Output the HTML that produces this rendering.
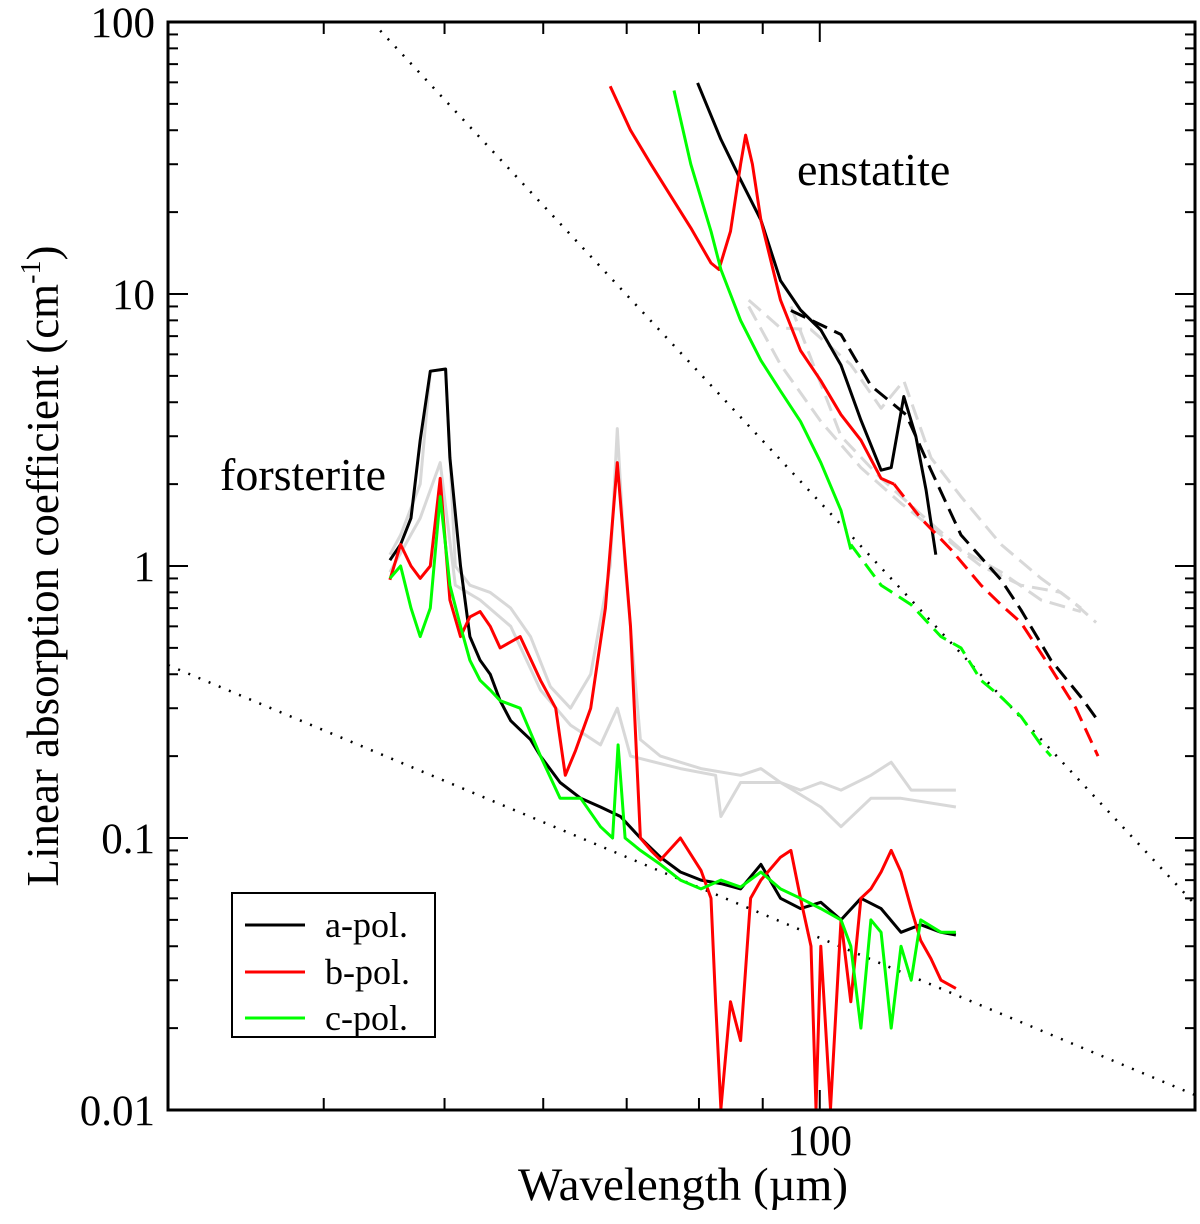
<!DOCTYPE html>
<html><head><meta charset="utf-8"><style>
body{margin:0;background:#fff}
svg{display:block;font-family:"Liberation Serif",serif}
</style></head><body>
<svg id="chart" width="1200" height="1224" viewBox="0 0 1200 1224">
<g id="series"></g>
<g id="axes"></g>
<text x="797" y="185" font-size="46">enstatite</text>
<text x="220" y="490" font-size="46">forsterite</text>
<text x="683" y="1200" font-size="47" text-anchor="middle">Wavelength (µm)</text>
<text transform="translate(58,566) rotate(-90)" font-size="45" text-anchor="middle">Linear absorption coefficient (cm<tspan font-size="28" dy="-18">-1</tspan><tspan dy="18">)</tspan></text>
<g>
<rect x="232" y="893" width="203" height="144" fill="#fff" stroke="#000" stroke-width="2"/>
<line x1="245" y1="925" x2="305" y2="925" stroke="#000" stroke-width="3"/>
<text x="325" y="937" font-size="36">a-pol.</text>
<line x1="245" y1="972" x2="305" y2="972" stroke="#f00" stroke-width="3"/>
<text x="325" y="984" font-size="36">b-pol.</text>
<line x1="245" y1="1018" x2="305" y2="1018" stroke="#0f0" stroke-width="3"/>
<text x="325" y="1030" font-size="36">c-pol.</text>
</g>
</svg>
<script>
const xTicksMinor=[40,50,60,70,80,90,100,200];
const xTickLabels=[100];
const yTickLabels=[0.01,0.1,1,10,100];
const dot1L=[44.4,200], dot1V=[93,0.057];
const dot2L=[30,200], dot2V=[0.432,0.01135];
// enstatite
const eBlkL=[79.8,83.3,86.4,89.7,93,96.5,100.2,104,107.9,112,114.1,116.8,119.4,121.7,123.9];
const eBlkV=[59.7,37,26.3,18.7,11.2,8.73,7.38,5.48,3.44,2.25,2.3,4.2,3.0,1.9,1.1];
const eBlkDL=[94.8,104,109.9,117.3,122.8,129.8,139.8,145,153.3,162,167.2];
const eBlkDV=[8.7,7.1,4.6,3.6,2.25,1.3,0.889,0.69,0.45,0.33,0.27];
const eRedL=[67.9,70.5,73.2,75.9,78.8,81.8,83,84.8,86.4,87.2,88.3,89.7,93,96.5,100.2,104,107.9,112,114.7];
const eRedV=[58,40,30,23,17.5,13,12.3,17,30,38.4,30,18.7,9.5,6.2,4.8,3.6,2.9,2.1,2.0];
const eRedDL=[114.7,120.5,127.4,134.7,139.8,145,153.3,160.5,167.2];
const eRedDV=[2.0,1.5,1.15,0.85,0.72,0.62,0.42,0.3,0.2];
const eGrnL=[76.4,78.8,81.8,83.3,86.4,89.7,93,96.5,100.2,104,105.9];
const eGrnV=[56,30,17,12.3,8,5.7,4.4,3.4,2.4,1.6,1.15];
const eGrnDL=[105.9,112,118.4,125.1,129.8,134.7,139.8,145,150.5,153.3];
const eGrnDV=[1.2,0.85,0.72,0.55,0.5,0.38,0.33,0.28,0.22,0.2];
const eGryAL=[87.7,93,98.4,105.9,112,116.8,122.8,129.8,139.8,150.5,159,166.6];
const eGryAV=[9.5,7.5,7.4,5.5,3.8,4.8,2.5,1.8,1.2,0.9,0.75,0.62];
const eGryBL=[87.7,93,100.2,107.9,116.2,125.1,134.7,145,156.1,162];
const eGryBV=[9.0,5.5,3.4,2.3,1.7,1.3,1.0,0.85,0.8,0.7];
const eGryCL=[94.8,104,112,120.5,129.8,139.8,150.5,162];
const eGryCV=[9,3.0,2.1,1.55,1.15,0.95,0.75,0.68];
// forsterite
const fBlkL=[45.2,46.1,47,47.8,48.7,50.1,50.5,51.5,52.4,53.4,54.4,55.4,56.5,57.5,58.6,59.7,61.9,64.3,66.7,69.2,71.8,74.5,77.3,80.3,83.3,86.4,89.7,93,96.5,100.2,104,107.9,112,116.2,120.5,125.1,128.6];
const fBlkV=[1.05,1.2,1.5,2.9,5.2,5.3,2.5,1.0,0.55,0.45,0.4,0.32,0.27,0.25,0.23,0.2,0.16,0.14,0.13,0.12,0.1,0.085,0.075,0.07,0.068,0.065,0.08,0.06,0.055,0.058,0.05,0.06,0.055,0.045,0.048,0.045,0.044];
const fRedL=[45.2,46.1,47,47.8,48.7,49.6,50.5,51.5,52.4,53.4,54.4,55.4,57.5,59.7,61.4,62.5,63.7,65.5,67.3,68.8,70.5,71.8,73.2,74.5,77.3,80.3,81.8,82.5,83.3,84.8,86.4,88,89.7,93,94.8,96.5,98.4,99.3,100.2,102,104,105.9,107.9,109.9,112,114.1,116.2,118.4,120.5,122.8,125.1,128.6];
const fRedV=[0.89,1.2,1.0,0.9,1.0,2.1,0.75,0.55,0.65,0.68,0.6,0.5,0.55,0.38,0.3,0.17,0.21,0.3,0.7,2.4,0.6,0.1,0.09,0.083,0.1,0.076,0.06,0.025,0.0101,0.025,0.018,0.06,0.07,0.085,0.09,0.06,0.04,0.0101,0.04,0.0101,0.05,0.025,0.06,0.065,0.075,0.09,0.075,0.055,0.042,0.036,0.03,0.028];
const fGrnL=[45.2,46.1,47,47.8,48.7,49.6,50.5,51.5,52.4,53.4,54.4,55.4,57.5,59.7,61.9,64.3,66.7,68.2,68.9,69.8,71.8,74.5,77.3,80.3,83.3,86.4,89.7,93,96.5,100.2,104,105.9,107.9,109.9,112,114.1,116.2,118.4,120.5,125.1,128.6];
const fGrnV=[0.9,1.0,0.7,0.55,0.7,1.8,0.85,0.6,0.45,0.38,0.35,0.32,0.3,0.2,0.14,0.14,0.11,0.1,0.22,0.1,0.09,0.08,0.07,0.065,0.07,0.066,0.075,0.065,0.06,0.055,0.05,0.04,0.02,0.05,0.045,0.02,0.04,0.03,0.05,0.045,0.045];
const fGryAL=[45.2,46.1,47.8,48.7,50.1,51,52.4,54.4,56.5,58.6,60.8,63.1,65.5,67.9,68.8,69.8,71.8,74.5,80.3,86.4,89.7,93,96.5,100.2,104,109.9,114.1,118.4,128.6];
const fGryAV=[1.1,1.3,2.0,5.2,5.3,1.0,0.85,0.8,0.7,0.55,0.36,0.3,0.4,1.0,3.2,1.0,0.23,0.2,0.18,0.17,0.18,0.16,0.15,0.16,0.15,0.17,0.19,0.15,0.15];
const fGryBL=[45.2,47.8,49.6,51,53.4,56.5,59.7,63.1,66.7,68.8,70.5,77.3,82.5,83.3,86.4,93,100.2,104,109.9,116.2,128.6];
const fGryBV=[0.95,1.5,2.4,0.85,0.75,0.6,0.35,0.26,0.22,0.3,0.2,0.18,0.17,0.12,0.16,0.16,0.13,0.11,0.14,0.14,0.13];

const L=168,R=1195,T=22,B=1110,XMIN=30,XMAX=200,YMIN=0.01,YMAX=100;
const X=v=>L+(Math.log10(v/XMIN))/Math.log10(XMAX/XMIN)*(R-L);
const Y=v=>B-(Math.log10(v/YMIN))/Math.log10(YMAX/YMIN)*(B-T);
const NS='http://www.w3.org/2000/svg';
const sg=document.getElementById('series'), ag=document.getElementById('axes');
function mk(tag,attrs,parent){const e=document.createElementNS(NS,tag);for(const k in attrs)e.setAttribute(k,attrs[k]);parent.appendChild(e);return e;}
function line(xs,vs,color,dash,name,w){
  const d=xs.map((x,i)=>(i?'L':'M')+X(x).toFixed(1)+','+Y(vs[i]).toFixed(1)).join('');
  const p=mk('path',{d:d,fill:'none',stroke:color,'stroke-width':w||3,'stroke-linejoin':'round'},sg);
  if(dash)p.setAttribute('stroke-dasharray',dash);
  
  
}
const cp=mk('clipPath',{id:'cp'},sg);mk('rect',{x:L,y:T,width:R-L,height:B-T},cp);
sg.setAttribute('clip-path','url(#cp)');
const GR='#d8d8d8';
line(dot1L,dot1V,'#000','2 9','power-law-enstatite',2.5);
line(dot2L,dot2V,'#000','2 9','power-law-forsterite',2.5);
line(eGryAL,eGryAV,GR,'16 8','enstatite-gray-a');
line(eGryBL,eGryBV,GR,'16 8','enstatite-gray-b');
line(eGryCL,eGryCV,GR,'16 8','enstatite-gray-c');
line(fGryAL,fGryAV,GR,null,'forsterite-gray-a');
line(fGryBL,fGryBV,GR,null,'forsterite-gray-b');
line(fBlkL,fBlkV,'#000',null,'forsterite-a-pol');
line(fRedL,fRedV,'#f00',null,'forsterite-b-pol');
line(fGrnL,fGrnV,'#0f0',null,'forsterite-c-pol');
line(eBlkL,eBlkV,'#000',null,'enstatite-a-pol');
line(eBlkDL,eBlkDV,'#000','16 8','enstatite-a-pol-dashed');
line(eRedL,eRedV,'#f00',null,'enstatite-b-pol');
line(eRedDL,eRedDV,'#f00','16 8','enstatite-b-pol-dashed');
line(eGrnL,eGrnV,'#0f0',null,'enstatite-c-pol');
line(eGrnDL,eGrnDV,'#0f0','16 8','enstatite-c-pol-dashed');
// axes
const fr=mk('rect',{x:L,y:T,width:R-L,height:B-T,fill:'none',stroke:'#000','stroke-width':3},ag);


xTicksMinor.forEach(v=>{
  const len=(v===100||v===200)?20:12;
  const x=X(v);
  const t=mk('line',{x1:x,y1:B,x2:x,y2:B-len,stroke:'#000','stroke-width':2},ag);
  
  
  const t2=mk('line',{x1:x,y1:T,x2:x,y2:T+len,stroke:'#000','stroke-width':2},ag);
  
  
});
xTickLabels.forEach(v=>{
  const t=mk('text',{x:X(v),y:B+45,'font-size':43,'text-anchor':'middle'},ag);
  t.textContent=v;
  
  
});
yTickLabels.forEach((v,i)=>{
  const y=Y(v);
  [[L,L+20],[R,R-20]].forEach(([a,b])=>{
    const t=mk('line',{x1:a,y1:y,x2:b,y2:y,stroke:'#000','stroke-width':2},ag);
    
    
  });
  const lab=mk('text',{x:L-13,y:y+15,'font-size':43,'text-anchor':'end'},ag);
  lab.textContent=v;
  
  
  if(i<yTickLabels.length-1){
    for(let m=2;m<10;m++){
      const ym=Y(v*m);
      [[L,L+10],[R,R-10]].forEach(([a,b])=>{
        const t=mk('line',{x1:a,y1:ym,x2:b,y2:ym,stroke:'#000','stroke-width':2},ag);
        
        
      });
    }
  }
});
</script>
</body></html>
